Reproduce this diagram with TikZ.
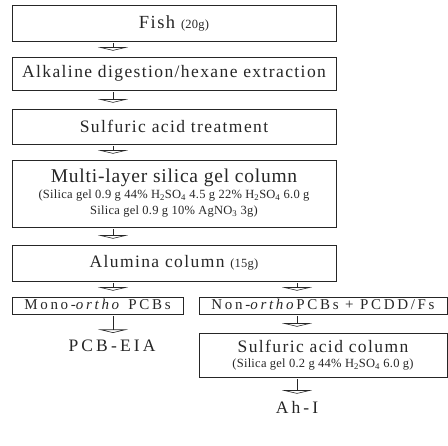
\documentclass[tikz,border=0pt]{standalone}
\usepackage{fontspec}
\setmainfont{Liberation Serif}
\usetikzlibrary{arrows.meta, positioning}
\definecolor{inkgray}{HTML}{262626}
\newcommand{\BT}{\fontsize{17.5}{19}\selectfont\addfontfeatures{LetterSpace=8}}
\newcommand{\RT}{\fontsize{15}{17}\selectfont\addfontfeatures{LetterSpace=18}}
\newcommand{\ST}{\fontsize{12.5}{15}\selectfont\addfontfeatures{LetterSpace=2}}
\newcommand{\HSO}{H\textsubscript{2}SO\textsubscript{4}}
\tikzset{
  stagebox/.style={rectangle, draw=inkgray, line width=0.6pt, inner sep=0pt,
    align=center, font=\BT, text=inkgray},
  stagebox/wide/.style={stagebox, minimum width=324pt},
  stagebox/half/.style={stagebox, font=\RT, minimum height=17pt, text height=10.5pt, text depth=3pt},
  outtxt/.style={font=\BT\addfontfeatures{LetterSpace=18}, text=inkgray, inner sep=1pt},
  ar/.style={draw=inkgray, line width=0.6pt, -{Triangle[open, width=30pt, length=3.5pt]},
    shorten <=2pt, shorten >=6pt},
}

\begin{document}
\begin{tikzpicture}[x=1pt, y=-1pt]
\useasboundingbox (0,0) rectangle (448,446);

\coordinate (lc) at (113,0);
\coordinate (rc) at (297,0);

\node[stagebox/wide, minimum height=36pt] (fish) at (174,23)
  {{\fontsize{18.5}{20}\selectfont Fish} {\ST (20g)}};
\node[stagebox/wide, minimum height=33pt] (alk) at (174,73.5)
  {Alkaline digestion/hexane extraction};
\node[stagebox/wide, minimum height=35pt] (sulf) at (174,126.5)
  {Sulfuric acid treatment};
\node[stagebox/wide, minimum height=67pt] (multi) at (174,193.5)
  {{\fontsize{19.5}{21}\selectfont\addfontfeatures{LetterSpace=4}Multi-layer silica gel column}\\[-3pt]
   {\ST (Silica gel 0.9 g 44\% \HSO{} 4.5 g 22\% \HSO{} 6.0 g}\\[-3pt]
   {\ST Silica gel 0.9 g 10\% AgNO\textsubscript{3} 3g)}};
\node[stagebox/wide, minimum height=36pt] (alum) at (174,263)
  {Alumina column {\ST (15g)}};

\node[stagebox/half, minimum width=171pt] (mono) at (97.5,305.5)
  {Mono-\textit{ortho} PCBs};
\node[stagebox/half, minimum width=248pt] (nonortho) at (323,305.5)
  {Non-\textit{ortho}PCBs + PCDD/Fs};

\node[outtxt] (eia) at (112,346) {PCB-EIA};
\node[stagebox, minimum width=248pt, minimum height=44pt] (sulfcol) at (323,355)
  {Sulfuric acid column\\[-4pt]
   {\ST (Silica gel 0.2 g 44\% \HSO{} 6.0 g)}};
\node[outtxt] (ahi) at (297,407) {Ah-I};

\draw[ar] (fish.south -| lc) -- (alk.north -| lc);
\draw[ar] (alk.south -| lc) -- (sulf.north -| lc);
\draw[ar] (sulf.south -| lc) -- (multi.north -| lc);
\draw[ar] (multi.south -| lc) -- (alum.north -| lc);
\draw[ar] (alum.south -| lc) -- (mono.north -| lc);
\draw[ar] (alum.south -| rc) -- (nonortho.north -| rc);
\draw[ar] (mono.south -| lc) -- (eia.north -| lc);
\draw[ar] (nonortho.south -| rc) -- (sulfcol.north -| rc);
\draw[ar] (sulfcol.south -| rc) -- (ahi.north -| rc);

\end{tikzpicture}
\end{document}
